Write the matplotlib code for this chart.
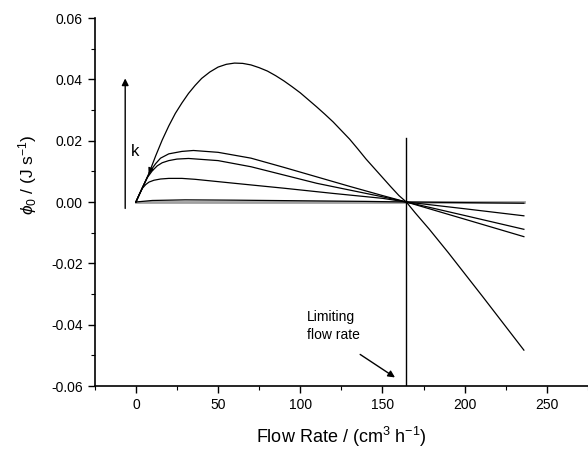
import matplotlib
matplotlib.use("Agg")
import matplotlib.pyplot as plt

plt.rcParams['font.family'] = ['Liberation Sans', 'DejaVu Sans']
plt.rcParams['axes.unicode_minus'] = False
plt.rcParams['mathtext.fontset'] = 'custom'
plt.rcParams['mathtext.rm'] = 'Liberation Sans'
plt.rcParams['mathtext.it'] = 'Liberation Sans:italic'

# Curve 1 (largest k)
x1 = [0, 4, 8, 12, 16, 20, 24, 28, 32, 36, 40, 45, 50, 55, 60, 65, 70, 75, 80, 85, 90, 95, 100,
      105, 110, 115, 120, 125, 130, 135, 140, 145, 150, 155, 160, 164.5, 170, 178.5, 190, 211, 236]
y1 = [0, 0.0047, 0.0094, 0.0150, 0.0202, 0.0248, 0.0289, 0.0323, 0.0354, 0.0380, 0.0403, 0.0424,
      0.0440, 0.0449, 0.0453, 0.0452, 0.0447, 0.0438, 0.0427, 0.0412, 0.0395, 0.0376, 0.0356,
      0.0333, 0.0310, 0.0286, 0.0261, 0.0233, 0.0205, 0.0173, 0.0140, 0.0110, 0.0080, 0.0050,
      0.0021, 0, -0.0036, -0.0089, -0.0165, -0.0309, -0.0483]

# Curve 2
x2 = [0, 4, 8, 10, 12, 15, 20, 28, 35, 50, 70, 90, 110, 130, 150, 164.5, 200, 236]
y2 = [0, 0.0047, 0.0092, 0.0110, 0.0125, 0.0143, 0.0157, 0.0165, 0.0168, 0.0162, 0.0143, 0.0113,
      0.0082, 0.0051, 0.0021, 0, -0.0056, -0.0113]

# Curve 3
x3 = [0, 4, 7, 10, 13, 16, 20, 25, 32, 50, 70, 90, 110, 130, 150, 164.5, 200, 236]
y3 = [0, 0.0047, 0.0080, 0.0102, 0.0118, 0.0128, 0.0135, 0.0140, 0.0142, 0.0135, 0.0115, 0.0088,
      0.0061, 0.0039, 0.0017, 0, -0.0044, -0.0089]

# Curve 4
x4 = [0, 2, 4, 6, 8, 11, 15, 20, 28, 36, 60, 90, 120, 150, 164.5, 200, 236]
y4 = [0, 0.0024, 0.0045, 0.0057, 0.0065, 0.0071, 0.0075, 0.0077, 0.0077, 0.0074, 0.0061, 0.0045,
      0.0028, 0.0012, 0, -0.0022, -0.0045]

# Curve 5 (smallest k)
x5 = [0, 10, 30, 60, 100, 140, 164.5, 236]
y5 = [0, 0.0005, 0.0007, 0.0006, 0.0004, 0.0002, 0, -0.0004]

# Zero line
x0 = [0, 236]
y0 = [0, 0]

limiting_flow = 164.5

xticks = [0, 50, 100, 150, 200, 250]
yticks = [-0.06, -0.04, -0.02, 0.00, 0.02, 0.04, 0.06]

fig = plt.figure(figsize=(5.88, 4.49), dpi=100)
ax = fig.add_axes([0.1612, 0.1403, 0.8388, 0.8196])

ax.plot(x0, y0, color='#a0a0a0', lw=2.0, zorder=1)
for xs, ys in [(x1, y1), (x2, y2), (x3, y3), (x4, y4), (x5, y5)]:
    ax.plot(xs, ys, color='black', lw=0.9, zorder=2, solid_joinstyle='round')

ax.plot([limiting_flow, limiting_flow], [-0.06, 0.021], color='black', lw=1.0, zorder=2)

ax.set_xlim(-25, 275)
ax.set_ylim(-0.06, 0.06)
ax.set_xticks(xticks)
ax.set_yticks(yticks)
ax.set_xticks([-25, 25, 75, 125, 175, 225, 275], minor=True)
ax.set_yticks([-0.05, -0.03, -0.01, 0.01, 0.03, 0.05], minor=True)
ax.set_yticklabels([f"{v:.2f}" for v in yticks])
ax.tick_params(which='major', direction='out', length=5, width=1.0, labelsize=10)
ax.tick_params(which='minor', direction='out', length=3, width=0.8)

for s in ['top', 'right']:
    ax.spines[s].set_visible(False)
for s in ['left', 'bottom']:
    ax.spines[s].set_linewidth(1.2)

fig.text(341 / 588, 1 - 437 / 449, r'Flow Rate / (cm$^{3}$ h$^{-1}$)', fontsize=13,
         ha='center', va='center')
fig.text(28 / 588, 1 - 175 / 449, r'$\phi_0$ / (J s$^{-1}$)', fontsize=12.5,
         ha='center', va='center', rotation=90)

# k arrow
ax.annotate('', xy=(-6.5, 0.0412), xytext=(-6.5, -0.003),
            arrowprops=dict(arrowstyle='-|>', color='black', lw=1.0, mutation_scale=10))
ax.text(-0.5, 0.0165, 'k', fontsize=12, ha='center', va='center')
ax.annotate('', xy=(7.0, 0.0083), xytext=(9.5, 0.0112),
            arrowprops=dict(arrowstyle='-|>', color='black', lw=0.8, mutation_scale=9))

# Limiting flow rate
ax.text(104, -0.0405, 'Limiting\nflow rate', fontsize=10, ha='left', va='center', linespacing=1.4)
ax.annotate('', xy=(159, -0.0577), xytext=(135, -0.0492),
            arrowprops=dict(arrowstyle='-|>', color='black', lw=1.0, mutation_scale=10))

fig.savefig('out.png', dpi=100)
